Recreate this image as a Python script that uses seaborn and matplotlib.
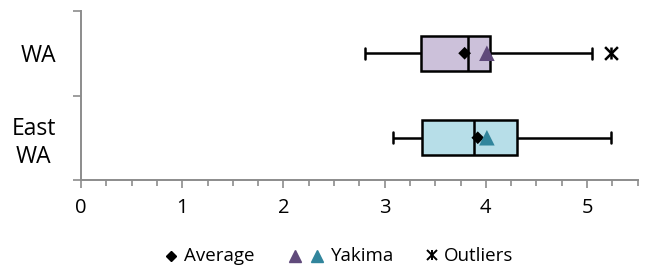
"""
plot.py
    Horizontal box plots for WA and East WA with average / Yakima markers
"""

import numpy as np
import pandas as pd
import matplotlib
matplotlib.use("Agg")
import matplotlib.pyplot as plt
from matplotlib.ticker import MultipleLocator, FixedLocator, NullFormatter
import seaborn as sns

# Data
groups = ["WA", "East WA"]
group_labels = ["WA", "East\nWA"]
whisker_low = [2.81, 3.08]
q1 = [3.36, 3.37]
median = [3.82, 3.88]
q3 = [4.04, 4.31]
whisker_high = [5.05, 5.24]
averages = [3.79, 3.92]
yakima = [4.01, 4.01]
outlier_groups = ["WA"]
outlier_values = [5.24]

box_colors = {"WA": "#CCC1DA", "East WA": "#B7DEE8"}
yakima_colors = {"WA": "#604A7B", "East WA": "#31859C"}
AXIS_GRAY = "#8C8C8C"

# Style
sns.set_style("white")
plt.rcParams["font.family"] = ["Open Sans", "DejaVu Sans"]
plt.rcParams["text.color"] = "black"
plt.rcParams["xtick.labelcolor"] = "black"
plt.rcParams["ytick.labelcolor"] = "black"

# five-number summary per group -> seaborn computes the same quartiles back
rows = []
for i, g in enumerate(groups):
    for v in (whisker_low[i], q1[i], median[i], q3[i], whisker_high[i]):
        rows.append({"group": g, "value": v})
box_df = pd.DataFrame(rows)
point_df = pd.DataFrame({"group": groups, "average": averages, "yakima": yakima})
out_df = pd.DataFrame({"group": outlier_groups, "value": outlier_values})

fig = plt.figure(figsize=(6.47, 2.69), dpi=100)
ax = fig.add_axes([81 / 647, 1 - 180 / 269, (637.7 - 81) / 647, (180 - 11) / 269])

sns.boxplot(data=box_df, x="value", y="group", hue="group", order=groups,
            palette=box_colors, saturation=1, whis=(0, 100), width=0.41,
            linecolor="black", linewidth=1.8, legend=False, ax=ax, capwidths=0.13)

sns.scatterplot(data=point_df, x="average", y="group", marker="D", s=42,
                color="black", edgecolor="none", zorder=5, ax=ax, legend=False)
sns.scatterplot(data=point_df, x="yakima", y="group", hue="group", marker="^",
                s=125, palette=yakima_colors, edgecolor="none", zorder=6,
                ax=ax, legend=False)
sns.scatterplot(data=out_df, x="value", y="group", marker="x", s=85,
                color="black", linewidth=1.8, zorder=6, ax=ax, legend=False)
sns.scatterplot(data=out_df, x="value", y="group", marker="|", s=85,
                color="black", linewidth=1.8, zorder=6, ax=ax, legend=False)

# Axes
ax.set_xlim(0, 5.5)
ax.set_ylim(1.5, -0.5)
ax.set_xlabel("")
ax.set_ylabel("")
ax.xaxis.set_major_locator(MultipleLocator(1))
ax.xaxis.set_minor_locator(MultipleLocator(0.25))
ax.tick_params(axis="x", which="major", direction="out", length=6, width=1.2,
               color=AXIS_GRAY, labelsize=14.5, pad=7, bottom=True)
ax.tick_params(axis="x", which="minor", direction="out", length=4.3, width=1.2,
               color=AXIS_GRAY, bottom=True)

ax.yaxis.set_major_locator(FixedLocator([-0.5, 0.5, 1.5]))
ax.yaxis.set_major_formatter(NullFormatter())
ax.yaxis.set_minor_locator(FixedLocator([0, 1]))
ax.set_yticklabels(group_labels, minor=True, fontsize=16.5, linespacing=1.25,
                   multialignment="center")
ax.tick_params(axis="y", which="minor", length=0, pad=18, left=True)
ax.tick_params(axis="y", which="major", direction="out", length=6, width=1.2,
               color=AXIS_GRAY, left=True)

for side in ("top", "right"):
    ax.spines[side].set_visible(False)
for side in ("left", "bottom"):
    ax.spines[side].set_color(AXIS_GRAY)
    ax.spines[side].set_linewidth(1.4)

# Legend row drawn in pixel coordinates of the figure
leg = fig.add_axes([0, 0, 1, 1], zorder=-1)
leg.set_xlim(0, 647)
leg.set_ylim(269, 0)
leg.axis("off")
ly = 256
leg.plot([171], [ly], marker="D", ms=5, color="black", ls="none")
leg.text(184, ly, "Average", fontsize=13.5, va="center", ha="left")
leg.plot([295], [ly], marker="^", ms=8.5, color=yakima_colors["WA"], ls="none")
leg.plot([317], [ly], marker="^", ms=8.5, color=yakima_colors["East WA"], ls="none")
leg.text(331, ly, "Yakima", fontsize=13.5, va="center", ha="left")
leg.plot([432], [ly - 1], marker="x", ms=7, mew=1.4, color="black", ls="none")
leg.plot([432], [ly - 1], marker="|", ms=7, mew=1.4, color="black", ls="none")
leg.text(444, ly, "Outliers", fontsize=13.5, va="center", ha="left")

plt.savefig("out.png", dpi=100)
